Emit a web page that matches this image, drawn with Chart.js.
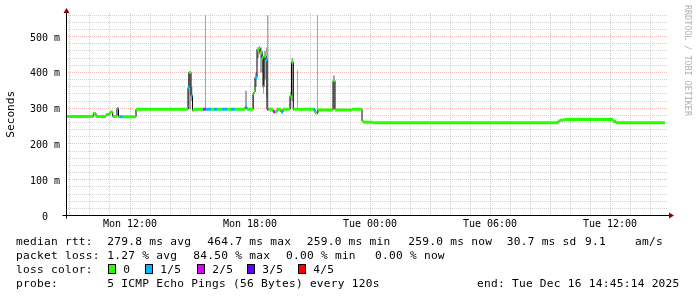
<!DOCTYPE html>
<html>
<head>
<meta charset="utf-8">
<script src="https://cdn.jsdelivr.net/npm/chart.js@4.4.1/dist/chart.umd.min.js"></script>
<style>
  html, body { margin: 0; padding: 0; background: #fff; }
  canvas { display: block; }
</style>
</head>
<body>
<canvas id="myChart" width="697" height="297"></canvas>
<script>
// time in hours since Mon 00:00, each value holds until the next time
const hours = [8.8, 10.165, 10.3, 10.8, 11.0, 11.135, 11.35, 11.425, 11.5, 11.635,
  12.3, 14.9, 14.95, 15.05, 15.125, 15.2, 15.65, 15.75, 15.8, 16.05,
  16.2, 16.35, 16.6, 16.85, 17.05, 17.25, 17.75, 17.85, 18.15, 18.2,
  18.25, 18.35, 18.45, 18.5, 18.6, 18.65, 18.7, 18.8, 18.85, 18.925,
  19.15, 19.25, 19.35, 19.55, 19.65, 20.0, 20.075, 20.165, 20.35, 20.4,
  21.15, 21.25, 21.35, 21.4, 22.15, 22.25, 23.1, 23.6, 23.675, 23.725,
  24.15, 33.4, 33.5, 33.65, 33.75, 36.15, 36.3, 38.75]
// median rtt (ms)
const median = [277, 285, 277, 282, 289, 277, 299, 276, 276, 276,
  297, 358, 400, 335, 294, 297, 297, 297, 297, 297,
  297, 297, 297, 297, 297, 297, 303, 297, 340, 345,
  386, 465, 468, 455, 440, 360, 445, 435, 297, 297,
  290, 290, 297, 289, 297, 335, 428, 297, 297, 297,
  297, 287, 287, 295, 377, 295, 297, 264, 261, 260.5,
  259, 264, 266, 267, 268, 263, 259, 259]
// lost pings out of 5
const loss = [0, 0, 0, 0, 0, 0, 1, 0, 1, 0,
  0, 1, 0, 1, 0, 0, 2, 2, 1, 0,
  1, 0, 1, 0, 1, 0, 1, 0, 1, 0,
  1, 0, 0, 0, 0, 1, 0, 1, 2, 0,
  2, 0, 0, 1, 0, 0, 0, 0, 0, 0,
  1, 0, 2, 0, 0, 0, 0, 0, 0, 0,
  0, 0, 0, 0, 0, 0, 0, 0]
// smoke: lowest / highest ping (ms), null = no spread
const smokeLo = [null, null, null, null, null, null, null, null, null, null,
  null, 297, 297, 320, null, null, null, 297, null, null,
  null, null, null, null, null, null, 297, null, 297, null,
  360, 440, 450, 400, 400, 340, 380, 330, 297, null,
  null, null, null, null, null, 300, 320, null, 297, null,
  null, null, 287, null, 300, null, null, null, null, null,
  null, null, null, null, null, null, null, null]
const smokeHi = [null, null, null, null, null, null, null, null, null, null,
  null, 400, 400, 360, null, null, null, 560, null, null,
  null, null, null, null, null, null, 349, null, 345, null,
  400, 470, 475, 470, 460, 440, 460, 470, 560, null,
  null, null, null, null, null, 345, 440, null, 405, null,
  null, null, 560, null, 391, null, null, null, null, null,
  null, null, null, null, null, null, null, null]

const lossColors = ['#26ff00', '#00b8ff', '#dd00ff', '#5e00ff', '#ff0000']
const lossLabels = ['0', '1/5', '2/5', '3/5', '4/5']

const xLabelHours = [12, 18, 24, 30, 36]
const xLabels = ['Mon 12:00', 'Mon 18:00', 'Tue 00:00', 'Tue 06:00', 'Tue 12:00']
const yLabelValues = [0, 100, 200, 300, 400, 500]
const yLabels = ['0  ', '100 m', '200 m', '300 m', '400 m', '500 m']

const rttLine = ['median rtt:', '279.8 ms avg', '464.7 ms max', '259.0 ms min', '259.0 ms now', '30.7 ms sd', '9.1', 'am/s']
const lossLine = ['packet loss:', '1.27 % avg', '84.50 % max', '0.00 % min', '0.00 % now']
const probeText = '5 ICMP Echo Pings (56 Bytes) every 120s'
const endText = 'end: Tue Dec 16 14:45:14 2025'

const minorGrid = 'rgba(170,170,170,0.5)'
const majorGrid = 'rgba(235,110,110,0.5)'
const mono = 'DejaVu Sans Mono'

// build the datasets
const last = hours.length - 1
const stepPts = arr => hours.map((h, i) => ({ x: h, y: arr[i] == null ? median[i] : arr[i] }))

const runSets = lossColors.map((col, lvl) => {
  const pts = []
  for (let i = 0; i < last; i++) {
    if (loss[i] !== lvl) continue
    pts.push({ x: hours[i], y: median[i] }, { x: hours[i + 1], y: median[i] }, { x: hours[i + 1], y: null })
  }
  return {
    data: pts, borderColor: col, borderWidth: 3, pointRadius: 0,
    borderCapStyle: 'butt', spanGaps: false, fill: false, order: 0
  }
})

const datasets = [
  ...runSets,
  { data: stepPts(median), stepped: 'before', borderColor: '#000', borderWidth: 1, pointRadius: 0, fill: false, order: 1 },
  { data: stepPts(smokeHi), stepped: 'before', borderWidth: 0, borderColor: 'rgba(0,0,0,0)', pointRadius: 0,
    fill: { target: runSets.length + 2 }, backgroundColor: 'rgba(110,110,110,0.6)', order: 2 },
  { data: stepPts(smokeLo), stepped: 'before', borderWidth: 0, borderColor: 'rgba(0,0,0,0)', pointRadius: 0, fill: false, order: 3 }
]

const decor = {
  id: 'decor',
  afterDraw(chart) {
    const c = chart.ctx
    const a = chart.chartArea
    const ax = a.left + 0.5
    const ay = a.bottom
    c.save()
    c.strokeStyle = '#000'
    c.lineWidth = 1
    c.beginPath()
    c.moveTo(ax - 4, ay); c.lineTo(a.right + 1, ay)
    c.moveTo(ax, ay + 3); c.lineTo(ax, a.top - 1)
    c.stroke()
    // arrows
    c.fillStyle = '#8b0000'
    c.beginPath()
    c.moveTo(ax, a.top - 5); c.lineTo(ax - 3, a.top); c.lineTo(ax + 3, a.top); c.closePath()
    c.moveTo(a.right + 6, ay); c.lineTo(a.right + 1, ay - 3); c.lineTo(a.right + 1, ay + 3); c.closePath()
    c.fill()

    // legend text
    c.fillStyle = '#000'
    c.font = '11.2px "' + mono + '"'
    c.letterSpacing = '0.25px'
    c.textBaseline = 'alphabetic'
    const rttX = [16, 107.3, 207.3, 306.7, 408.3, 506.7, 585, 635]
    rttLine.forEach((t, i) => c.fillText(t, rttX[i], 245))
    const lossX = [16, 107.3, 193.3, 286, 375]
    lossLine.forEach((t, i) => c.fillText(t, lossX[i], 259))
    c.fillText('loss color:', 16, 273)
    const boxX = [108.5, 145.5, 197.5, 247.5, 298.5]
    lossColors.forEach((col, i) => {
      c.fillStyle = col
      c.fillRect(boxX[i], 264.5, 7, 9)
      c.strokeRect(boxX[i], 264.5, 7, 9)
      c.fillStyle = '#000'
      c.fillText(lossLabels[i], boxX[i] + 14.7, 273)
    })
    c.fillText('probe:', 16, 287)
    c.fillText(probeText, 107.3, 287)
    c.fillText(endText, 477, 287)

    // watermark
    c.letterSpacing = '0px'
    c.translate(687, 5)
    c.rotate(Math.PI / 2)
    c.fillStyle = '#b0b0b0'
    c.font = '8.4px "' + mono + '"'
    c.textBaseline = 'middle'
    c.fillText('RRDTOOL / TOBI OETIKER', 0, 0)
    c.restore()
  }
}

new Chart(document.getElementById('myChart'), {
  type: 'line',
  data: { datasets },
  plugins: [decor],
  options: {
    responsive: false,
    animation: false,
    events: [],
    layout: { padding: { top: 13, right: 29, bottom: 61.5, left: 0 } },
    plugins: { legend: { display: false }, tooltip: { enabled: false } },
    scales: {
      x: {
        type: 'linear', min: 8.8, max: 38.9,
        afterBuildTicks: s => { s.ticks = []; for (let h = 9; h <= 38; h++) s.ticks.push({ value: h }) },
        afterFit: s => { s.height = 20 },
        grid: { drawTicks: false, lineWidth: 1, color: ctx => (ctx.tick && ctx.tick.value % 3 === 0 ? majorGrid : minorGrid) },
        border: { display: false, dash: [1, 1] },
        ticks: {
          autoSkip: false, maxRotation: 0, padding: 3, color: '#000',
          font: { family: mono, size: 10 },
          callback: v => { const i = xLabelHours.indexOf(v); return i >= 0 ? xLabels[i] : '' }
        }
      },
      y: {
        min: 0, max: 566,
        afterBuildTicks: s => { s.ticks = []; for (let v = 0; v <= 560; v += 20) s.ticks.push({ value: v }) },
        afterFit: s => { s.width = 66 },
        grid: { drawTicks: false, lineWidth: 1, color: ctx => (ctx.tick && ctx.tick.value % 100 === 0 ? majorGrid : minorGrid) },
        border: { display: false, dash: [1, 1] },
        title: { display: true, text: 'Seconds', color: '#000', font: { family: mono, size: 11.2 }, padding: { top: 4, bottom: 0 } },
        ticks: {
          autoSkip: false, padding: 6, labelOffset: 1.5, color: '#000',
          font: { family: mono, size: 10 },
          callback: v => { const i = yLabelValues.indexOf(v); return i >= 0 ? yLabels[i] : '' }
        }
      }
    }
  }
})
</script>
</body>
</html>
